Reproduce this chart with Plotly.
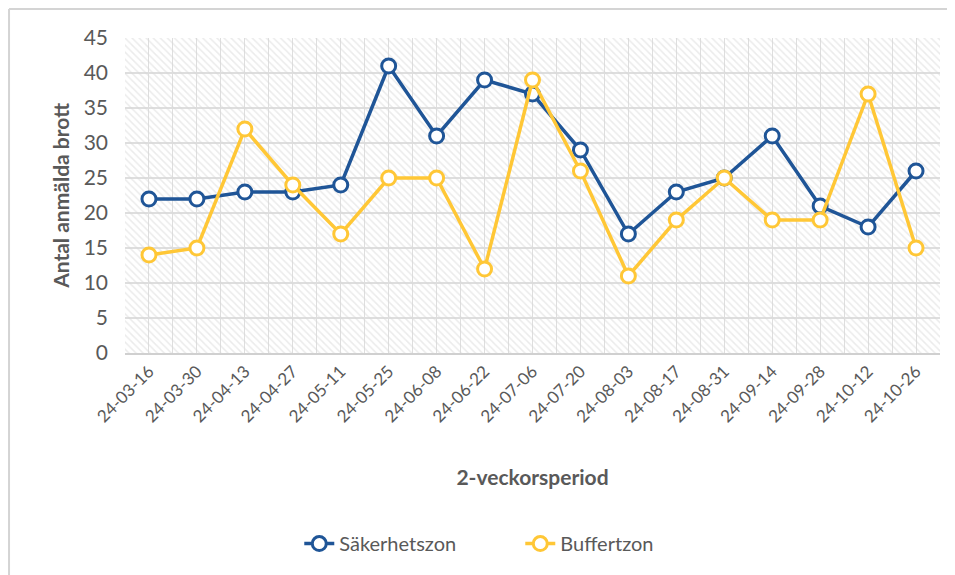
import plotly.graph_objects as go

periods = ["24-03-16", "24-03-30", "24-04-13", "24-04-27", "24-05-11", "24-05-25",
           "24-06-08", "24-06-22", "24-07-06", "24-07-20", "24-08-03", "24-08-17",
           "24-08-31", "24-09-14", "24-09-28", "24-10-12", "24-10-26"]
sakerhetszon = [22, 22, 23, 23, 24, 41, 31, 39, 37, 29, 17, 23, 25, 31, 21, 18, 26]
buffertzon = [14, 15, 32, 24, 17, 25, 25, 12, 39, 26, 11, 19, 25, 19, 19, 37, 15]
y_ticks = [0, 5, 10, 15, 20, 25, 30, 35, 40, 45]

BLUE = "#1F5597"
YELLOW = "#FFC736"
GRAY_TXT = "#595959"
GRID = "#dedede"
FONT = "Lato"

idx = list(range(len(periods)))
y_max = max(y_ticks)

fig = go.Figure()

# hatched background of the plot area
fig.add_trace(go.Bar(
    x=idx, y=[y_max] * len(idx), width=1,
    marker=dict(color="rgba(0,0,0,0)", line=dict(width=0),
                pattern=dict(shape="\\", fgcolor="#d8d8d8", bgcolor="rgba(0,0,0,0)",
                             size=5, solidity=0.3, fillmode="overlay")),
    showlegend=False, hoverinfo="skip"))

for name, vals, col in [("Säkerhetszon", sakerhetszon, BLUE), ("Buffertzon", buffertzon, YELLOW)]:
    fig.add_trace(go.Scatter(
        x=idx, y=vals, name=name, mode="lines+markers",
        line=dict(color=col, width=3.5),
        marker=dict(size=14, color="white", line=dict(color=col, width=3)),
    ))

fig.update_layout(
    width=947, height=567,
    margin=dict(l=117, r=15, t=30, b=222),
    paper_bgcolor="white", plot_bgcolor="white",
    font=dict(family=FONT, color=GRAY_TXT),
    bargap=0,
    showlegend=True,
    legend=dict(orientation="h", x=0.485, xanchor="center", y=-0.605, yanchor="middle",
                font=dict(size=20, color=GRAY_TXT, family=FONT), itemwidth=30,
                entrywidth=176, entrywidthmode="pixels",
                traceorder="normal"),
    xaxis=dict(
        range=[-0.5, len(periods) - 0.5],
        tickmode="array", tickvals=idx, ticktext=periods, tickangle=-45,
        tickfont=dict(size=17, color=GRAY_TXT, family=FONT),
        showgrid=True, gridcolor=GRID, gridwidth=1,
        minor=dict(tickmode="array", tickvals=[i + 0.5 for i in idx[:-1]] + [-0.5],
                   showgrid=True, gridcolor=GRID, gridwidth=1),
        zeroline=False, showline=True, linecolor="#d0d0d0", linewidth=1.5,
        ticks="", mirror=False,
        title=dict(text="<b>2-veckorsperiod</b>", font=dict(size=21, color=GRAY_TXT, family=FONT),
                   standoff=45),
    ),
    yaxis=dict(
        range=[0, y_max], tickmode="array", tickvals=y_ticks,
        tickfont=dict(size=21, color=GRAY_TXT, family=FONT),
        showgrid=True, gridcolor=GRID, gridwidth=1.5,
        zeroline=False, showline=False, ticks="", ticklen=0,
        ticklabelstandoff=16,
        title=dict(text="<b>Antal anmälda brott</b>", font=dict(size=21, color=GRAY_TXT, family=FONT),
                   standoff=8),
    ),
    shapes=[
        dict(type="line", xref="paper", yref="paper", x0=-0.1423, x1=-0.1423, y0=1.092, y1=-0.72,
             line=dict(color="#d4d4d4", width=2)),
        dict(type="line", xref="paper", yref="paper", x0=-0.1423, x1=1.03, y0=1.092, y1=1.092,
             line=dict(color="#d4d4d4", width=2)),
    ],
)

fig.write_html("out.html")
